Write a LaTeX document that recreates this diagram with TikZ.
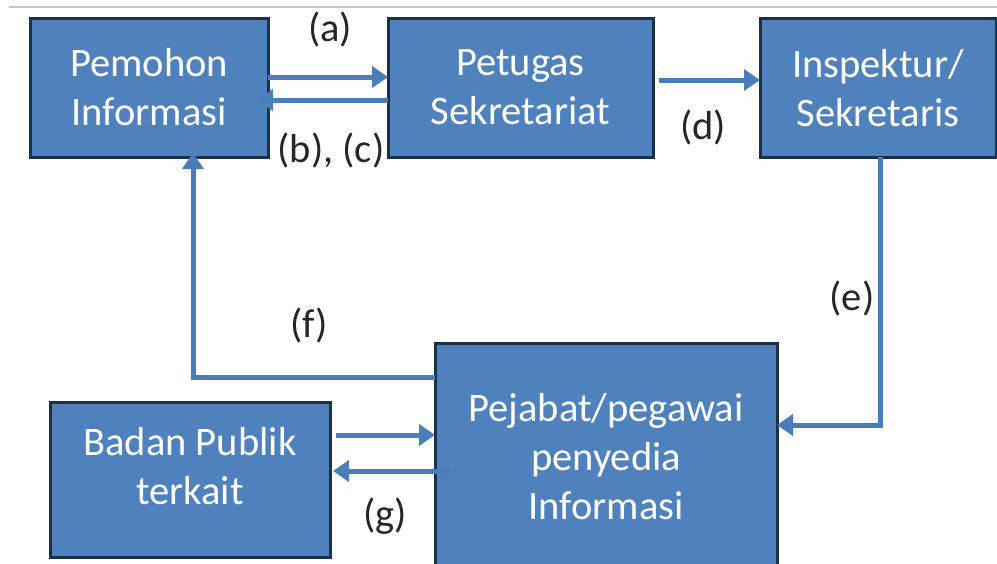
\documentclass[tikz,border=0pt]{standalone}
\usepackage{fontspec}
\setmainfont{Carlito}
\usetikzlibrary{arrows.meta}
\definecolor{boxfill}{HTML}{4F81BD}
\definecolor{boxedge}{HTML}{1C3048}
\definecolor{arrcol}{HTML}{4A7EBB}
\tikzset{
  box/.style={draw=boxedge, line width=3pt, fill=boxfill, inner sep=0pt, outer sep=0pt},
  boxtext/.style={text=white, font=\fontsize{40.5}{49}\selectfont, align=center, inner sep=0pt},
  lab/.style={text=black!85, font=\fontsize{40.5}{47}\selectfont, inner sep=0pt},
  arr/.style={draw=arrcol, line width=5pt, -{Triangle[length=16pt,width=21pt]}},
}
\begin{document}
\begin{tikzpicture}[x=1pt,y=-1pt]
\useasboundingbox (0,0) rectangle (997,563);
\draw[draw=black!22, line width=1.5pt] (9,7) -- (997,7);
% boxes
\node[box, minimum width=238pt, minimum height=139pt] (pem) at (149,87.5) {};
\node[box, minimum width=265pt, minimum height=139pt] (pet) at (520.5,87.5) {};
\node[box, minimum width=236pt, minimum height=139pt] (insp) at (878,87.5) {};
\node[box, minimum width=342pt, minimum height=228pt] (pej) at (606,457) {};
\node[box, minimum width=280pt, minimum height=155pt] (bad) at (190,479.5) {};
% texts
\node[boxtext] (pemt) at (149,87) {Pemohon\\Informasi};
\node[boxtext] (pett) at (520.5,87) {Petugas\\Sekretariat};
\node[boxtext] (inspt) at (878,88) {Inspektur/\\Sekretaris};
\node[boxtext] (pejt) at (606,457) {Pejabat/pegawai\\penyedia\\Informasi};
\node[boxtext] (badt) at (190,466) {Badan Publik\\terkait};
% connectors
\coordinate (fturn) at (193,377);
\coordinate (eturn) at (880,425);
\draw[arr] (pem.east |- 0,77) -- (pet.west |- 0,77);
\draw[arr] (pet.west |- 0,100) -- ([xshift=-11pt]pem.east |- 0,100);
\draw[arr] ([xshift=6pt]pet.east |- 0,80) -- (insp.west |- 0,80);
\draw[arr] (insp.south -| eturn) -- (eturn) -- (pej.east |- eturn);
\draw[arr] (pej.west |- fturn) -- (fturn) -- ([yshift=4pt]pem.south -| fturn);
\draw[arr] ([xshift=6pt]bad.east |- 0,435) -- (pej.west |- 0,435);
\draw[arr] ([xshift=15pt]pej.west |- 0,471) -- ([xshift=3pt]bad.east |- 0,471);
% labels
\node[lab] (la) at (330,29) {(a)};
\node[lab] (lbc) at (331,150) {(b), (c)};
\node[lab] (ld) at (703,127) {(d)};
\node[lab] (le) at (852,298) {(e)};
\node[lab] (lf) at (309,325) {(f)};
\node[lab] (lg) at (385,516) {(g)};
\end{tikzpicture}
\end{document}
